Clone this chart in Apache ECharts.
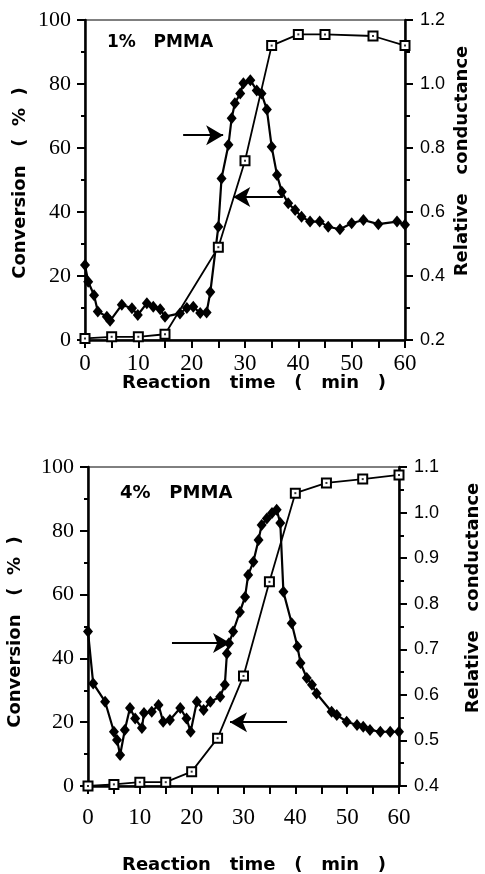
<!DOCTYPE html>
<html><head><meta charset="utf-8">
<script src="https://cdn.jsdelivr.net/npm/echarts@6/dist/echarts.min.js"></script>
<style>html,body{margin:0;padding:0;background:#fff}#c{width:485px;height:874px}</style>
</head><body><div id="c"></div>
<script>
// ---- Top panel: 1% PMMA ----
const topConvTime = [0, 5, 10, 15, 25, 30, 35, 40, 45, 54, 60];
const topConvValue = [0.5, 1, 1, 1.8, 29, 56, 92, 95.5, 95.5, 95, 92];
const topCondTime = [0, 0.6, 1.7, 2.4, 4.1, 4.7, 6.9, 8.8, 9.9, 11.6, 12.8, 14.1, 15, 17.8, 19.1, 20.3, 21.6, 22.8, 23.5, 25, 25.6, 26.9, 27.5, 28.1, 29.1, 29.7, 31, 32.2, 33.1, 34.1, 35, 36, 36.9, 38.1, 39.4, 40.6, 42.2, 44, 45.6, 47.8, 50, 52.2, 55, 58.5, 60];
const topCondValue = [0.434, 0.382, 0.34, 0.289, 0.273, 0.26, 0.31, 0.299, 0.278, 0.315, 0.304, 0.296, 0.273, 0.283, 0.3, 0.304, 0.284, 0.286, 0.35, 0.554, 0.705, 0.81, 0.893, 0.94, 0.97, 1.002, 1.012, 0.98, 0.97, 0.92, 0.804, 0.716, 0.663, 0.627, 0.606, 0.585, 0.57, 0.57, 0.554, 0.546, 0.565, 0.575, 0.562, 0.57, 0.56];
const topArrows = [[[18.4, 64], [25.9, 64]], [[37.1, 44.7], [27.8, 44.7]]];

// ---- Bottom panel: 4% PMMA ----
const botConvTime = [0, 5, 10, 15, 20, 25, 30, 35, 40, 46, 53, 60];
const botConvValue = [0, 0.5, 1.2, 1.2, 4.5, 15, 34.5, 64, 91.8, 95, 96.2, 97.5];
const botCondTime = [0, 1, 3.3, 5.0, 5.6, 6.2, 7.1, 8.1, 9.1, 10.4, 10.8, 12.3, 13.6, 14.5, 15.8, 17.8, 19, 19.8, 21, 22.3, 23.6, 25.5, 26.4, 26.8, 27.2, 28, 29.3, 30.3, 30.9, 31.9, 32.9, 33.5, 34.5, 35.5, 36.4, 37.1, 37.7, 39.3, 40.4, 41, 42.2, 43.2, 44.1, 47, 48, 49.9, 51.9, 53.1, 54.4, 56.4, 58.3, 60];
const botCondValue = [0.739, 0.625, 0.585, 0.519, 0.501, 0.468, 0.523, 0.571, 0.548, 0.527, 0.56, 0.563, 0.578, 0.541, 0.545, 0.571, 0.548, 0.519, 0.585, 0.567, 0.585, 0.596, 0.622, 0.691, 0.713, 0.739, 0.782, 0.815, 0.863, 0.892, 0.94, 0.973, 0.987, 0.999, 1.006, 0.977, 0.826, 0.757, 0.706, 0.67, 0.637, 0.622, 0.603, 0.563, 0.556, 0.541, 0.534, 0.53, 0.523, 0.519, 0.519, 0.519];
const botArrows = [[[16.2, 44.8], [27.4, 44.8]], [[38.4, 20], [27.4, 20]]];

// ---- Text ----
const panelLabels = ['1%   PMMA', '4%   PMMA'];
const xName = 'Reaction   time   (   min   )';
const yLeftName = 'Conversion   (  %  )';
const yRightName = 'Relative   conductance';

const zip = (a, b) => a.map((v, i) => [v, b[i]]);
const SANS = '"DejaVu Sans"';
const SERIF = '"Liberation Serif"';

function xAxisCfg(gridIndex, labelMargin) {
  return {
    type: 'value', gridIndex, min: 0, max: 60, interval: 10,
    axisLine: { show: true, lineStyle: { color: '#000', width: 2.5 } },
    axisTick: { show: true, inside: false, length: 8, lineStyle: { color: '#000', width: 2 } },
    minorTick: { show: true, splitNumber: 2, length: 8, lineStyle: { color: '#000', width: 2 } },
    splitLine: { show: false },
    axisLabel: { color: '#000', fontFamily: SERIF, fontSize: 23, margin: labelMargin }
  };
}
function yLeftCfg(gridIndex) {
  return {
    type: 'value', gridIndex, position: 'left', min: 0, max: 100, interval: 20,
    axisLine: { show: true, onZero: false, lineStyle: { color: '#000', width: 2.5 } },
    axisTick: { show: true, length: 8, lineStyle: { color: '#000', width: 2 } },
    minorTick: { show: true, splitNumber: 2, length: 4, lineStyle: { color: '#000', width: 2 } },
    splitLine: { show: false },
    axisLabel: { color: '#000', fontFamily: SERIF, fontSize: 22, margin: 14 }
  };
}
function yRightCfg(gridIndex, min, max, interval) {
  return {
    type: 'value', gridIndex, position: 'right', min, max, interval,
    axisLine: { show: true, onZero: false, lineStyle: { color: '#000', width: 2.5 } },
    axisTick: { show: true, length: 8, lineStyle: { color: '#000', width: 2 } },
    minorTick: { show: true, splitNumber: 2, length: 5, lineStyle: { color: '#000', width: 2 } },
    splitLine: { show: false },
    axisLabel: { color: '#000', fontFamily: '"Liberation Sans"', fontSize: 18, margin: 15,
      formatter: v => v.toFixed(1) }
  };
}
function arrowMark(arrows) {
  return {
    silent: true, animation: false,
    symbol: ['none', 'arrow'], symbolSize: [15, 17],
    label: { show: false },
    lineStyle: { color: '#000', width: 1.8, type: 'solid' },
    data: arrows.map(a => [{ coord: a[0] }, { coord: a[1] }])
  };
}
const condStyle = {
  type: 'line', symbol: 'diamond', symbolSize: [10, 12], showSymbol: true,
  lineStyle: { color: '#000', width: 2.2 }, itemStyle: { color: '#000' }, animation: false, z: 3
};
const convStyle = {
  type: 'line', symbol: 'rect', symbolSize: 9, showSymbol: true,
  lineStyle: { color: '#000', width: 1.8 },
  itemStyle: { color: '#fff', borderColor: '#000', borderWidth: 2 }, animation: false, z: 4
};
const dotStyle = {
  type: 'scatter', symbol: 'rect', symbolSize: 2, itemStyle: { color: '#000' },
  silent: true, animation: false, z: 5
};

function txt(x, y, text, size, rot, align) {
  return {
    type: 'text', x, y, rotation: rot || 0, silent: true,
    style: { text, fill: '#000', fontFamily: SANS, fontWeight: 'bold', fontSize: size,
      textAlign: align || 'center', textVerticalAlign: 'middle',
      align: align || 'center', verticalAlign: 'middle' }
  };
}

const option = {
  backgroundColor: '#fff',
  animation: false,
  grid: [
    { left: 85, right: 80, top: 20, height: 320, show: true, borderColor: '#000', borderWidth: 1, backgroundColor: 'transparent' },
    { left: 88, right: 86, top: 467, height: 319, show: true, borderColor: '#000', borderWidth: 1, backgroundColor: 'transparent' }
  ],
  xAxis: [xAxisCfg(0, 12), xAxisCfg(1, 20)],
  yAxis: [yLeftCfg(0), yRightCfg(0, 0.2, 1.2, 0.2), yLeftCfg(1), yRightCfg(1, 0.4, 1.1, 0.1)],
  series: [
    Object.assign({}, condStyle, { name: 'cond1', xAxisIndex: 0, yAxisIndex: 1, data: zip(topCondTime, topCondValue) }),
    Object.assign({}, convStyle, { name: 'conv1', xAxisIndex: 0, yAxisIndex: 0, data: zip(topConvTime, topConvValue), markLine: arrowMark(topArrows) }),
    Object.assign({}, dotStyle, { name: 'conv1dot', xAxisIndex: 0, yAxisIndex: 0, data: zip(topConvTime, topConvValue) }),
    Object.assign({}, condStyle, { name: 'cond4', xAxisIndex: 1, yAxisIndex: 3, data: zip(botCondTime, botCondValue) }),
    Object.assign({}, convStyle, { name: 'conv4', xAxisIndex: 1, yAxisIndex: 2, data: zip(botConvTime, botConvValue), markLine: arrowMark(botArrows) }),
    Object.assign({}, dotStyle, { name: 'conv4dot', xAxisIndex: 1, yAxisIndex: 2, data: zip(botConvTime, botConvValue) })
  ],
  graphic: [
    txt(107, 43, panelLabels[0], 17, 0, 'left'),
    txt(120, 493, panelLabels[1], 18, 0, 'left'),
    txt(254, 383, xName, 18),
    txt(254, 865, xName, 18),
    txt(20, 183, yLeftName, 18, Math.PI / 2),
    txt(15, 632, yLeftName, 18, Math.PI / 2),
    txt(462, 161, yRightName, 18, Math.PI / 2),
    txt(473, 598, yRightName, 18, Math.PI / 2)
  ]
};
const chart = echarts.init(document.getElementById('c'), null, { renderer: 'canvas' });
chart.setOption(option);
</script></body></html>
